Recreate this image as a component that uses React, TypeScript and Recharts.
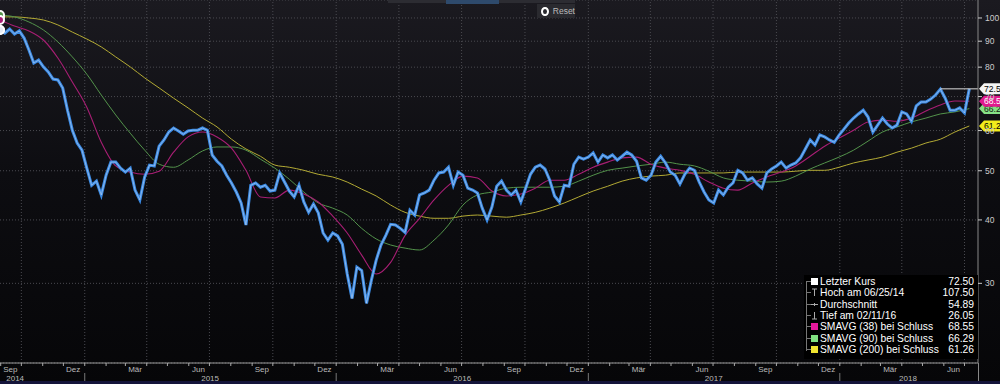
import React from 'react';
import { ComposedChart, Line, XAxis, YAxis, CartesianGrid, ReferenceLine } from 'recharts';

const START = '2014-08-31';

// weekly closes, week 0 = START
const closes = [
  94.7, 93.4, 95.1, 93.0, 94.3, 91.3, 86.5, 81.5, 82.6, 80.1,
  78.3, 75.8, 75.5, 72.8, 65.8, 60.1, 56.7, 54.9, 50.6, 46.8,
  47.7, 44.8, 49.0, 52.0, 52.0, 50.6, 49.7, 50.6, 45.8, 43.8,
  48.6, 51.3, 51.1, 55.9, 57.5, 59.6, 60.7, 59.9, 59.0, 59.9,
  60.1, 60.1, 60.7, 60.1, 53.7, 52.2, 51.1, 49.0, 47.3, 45.4,
  43.2, 39.1, 46.8, 47.3, 46.4, 46.8, 45.6, 45.8, 49.5, 47.5,
  45.6, 44.4, 46.8, 43.4, 41.4, 43.0, 41.3, 37.7, 36.5, 37.7,
  37.2, 35.8, 31.3, 28.0, 32.3, 31.8, 27.4, 30.4, 33.3, 35.7,
  37.3, 39.2, 39.1, 38.5, 37.8, 41.8, 40.9, 44.8, 45.2, 45.8,
  47.9, 49.5, 49.7, 50.8, 46.8, 49.7, 49.0, 46.2, 45.8, 45.2,
  42.2, 40.0, 42.4, 46.6, 47.7, 45.8, 44.8, 45.8, 43.4, 46.2,
  49.2, 50.8, 51.3, 50.4, 47.9, 44.6, 43.4, 46.8, 46.6, 51.5,
  53.2, 52.7, 53.2, 54.2, 52.0, 53.7, 53.0, 53.7, 52.5, 53.4,
  54.4, 53.7, 52.2, 48.4, 47.9, 49.0, 52.0, 53.4, 51.8, 49.7,
  49.0, 47.1, 49.2, 50.6, 50.1, 47.5, 45.4, 43.8, 43.2, 45.8,
  44.8, 46.4, 47.3, 50.1, 49.5, 47.9, 48.4, 47.1, 46.2, 49.5,
  50.4, 51.1, 52.0, 50.6, 51.3, 51.8, 53.0, 55.2, 57.5, 56.2,
  58.8, 58.3, 57.5, 56.9, 58.8, 60.4, 62.1, 63.5, 64.7, 65.8,
  63.8, 59.6, 61.5, 63.5, 61.8, 60.7, 61.5, 65.3, 64.7, 62.6,
  67.1, 68.3, 68.3, 69.2, 70.5, 72.4, 69.5, 65.8, 65.8, 66.5,
  65.0, 72.5,
];

// moving averages, one value every 3 weeks
const MA_STEP = 3;
const sma38 = [
  99.1, 96.4, 94.3, 90.5, 83.4, 74.8, 66.7, 56.9, 51.1, 49.7,
  49.2, 49.9, 54.4, 58.3, 59.6, 58.3, 55.4, 50.1, 44.4, 44.2,
  45.8, 45.0, 43.4, 40.7, 37.7, 34.1, 31.3, 33.0, 37.3, 40.3,
  43.8, 46.8, 48.8, 48.4, 45.6, 44.6, 45.0, 46.2, 47.9, 47.9,
  49.2, 50.8, 52.0, 53.0, 53.2, 51.5, 50.6, 50.1, 49.2, 47.5,
  46.2, 45.8, 47.3, 48.6, 49.7, 51.1, 53.4, 55.9, 58.0, 60.1,
  62.4, 62.9, 62.6, 63.5, 65.6, 67.4, 68.6, 68.55,
];
const sma90 = [
  101.4, 100.5, 98.2, 94.7, 89.7, 83.8, 77.5, 70.5, 64.4, 59.3,
  54.9, 51.5, 50.8, 52.5, 54.7, 55.7, 55.7, 54.9, 52.7, 50.6,
  48.1, 45.4, 43.2, 42.2, 40.9, 38.5, 36.7, 35.7, 35.2, 34.9,
  36.5, 39.1, 42.8, 44.8, 45.4, 46.2, 46.4, 46.4, 46.4, 46.6,
  47.7, 49.0, 50.1, 50.6, 51.1, 51.5, 52.0, 51.5, 51.1, 49.9,
  48.4, 47.9, 47.7, 47.5, 47.7, 48.8, 50.4, 51.8, 53.2, 54.9,
  57.2, 59.6, 61.0, 62.4, 63.5, 64.7, 65.3, 66.29,
];
const sma200 = [
  100.5, 100.5, 100.0, 99.1, 96.9, 93.8, 90.9, 87.7, 83.8, 80.1,
  76.2, 72.8, 69.5, 66.5, 63.5, 61.0, 57.7, 55.2, 53.4, 51.3,
  50.8, 50.1, 49.2, 48.6, 47.5, 46.0, 44.6, 42.8, 41.4, 40.7,
  40.3, 40.3, 40.7, 40.9, 40.7, 40.5, 40.9, 41.4, 42.2, 43.2,
  44.4, 45.6, 46.6, 47.7, 48.4, 48.8, 49.0, 49.5, 49.5, 49.5,
  49.5, 49.7, 49.7, 49.7, 49.7, 49.9, 50.1, 50.1, 50.8, 51.8,
  52.5, 53.2, 54.4, 55.4, 56.7, 57.7, 59.6, 61.26,
];

const yTicks = [30, 40, 50, 60, 70, 80, 90, 100];
const quarterMonthNames: Record<number, string> = { 3: 'Mär', 6: 'Jun', 9: 'Sep', 12: 'Dez' };
const yearLabels: [string, string][] = [
  ['2014-09-22', '2014'], ['2015-07-02', '2015'], ['2016-07-02', '2016'],
  ['2017-07-02', '2017'], ['2018-04-10', '2018'],
];

const lastPrice = 72.5;
const badgeValues = [72.5, 68.55, 66.29, 61.26];
const badgeText = ['72.50', '68.55', '66.29', '61.26'];
const badgeBg = ['#f4f4f4', '#e01a8e', '#86e086', '#f2ec1c'];
const badgeFg = ['#000', '#fff', '#102010', '#000'];

const legendRows = [
  { icon: 'box', color: '#ffffff', label: 'Letzter Kurs', value: '72.50' },
  { icon: 'high', color: '#aaa', label: 'Hoch am 06/25/14', value: '107.50' },
  { icon: 'avg', color: '#aaa', label: 'Durchschnitt', value: '54.89' },
  { icon: 'low', color: '#aaa', label: 'Tief am 02/11/16', value: '26.05' },
  { icon: 'box', color: '#e4189a', label: 'SMAVG (38) bei Schluss', value: '68.55' },
  { icon: 'box', color: '#80e080', label: 'SMAVG (90) bei Schluss', value: '66.29' },
  { icon: 'box', color: '#f0e430', label: 'SMAVG (200) bei Schluss', value: '61.26' },
];

const weekOf = (d: string) => (Date.parse(d) - Date.parse(START)) / 864e5 / 7;
const X_MAX = 202.8;

const priceRows = closes.map((c, i) => ({ week: i, close: c }));
const maRows = sma38.map((v, i) => ({ week: i * MA_STEP, ma38: v, ma90: sma90[i], ma200: sma200[i] }));
// drawn bottom to top so the upper badges stay on top
const badgeRows = badgeValues
  .map((v, i) => ({ week: X_MAX, v, text: badgeText[i], bg: badgeBg[i], fg: badgeFg[i] }))
  .reverse();

// x ticks: month boundaries, quarter labels, year labels
type TickInfo = { kind: 'b' | 'm' | 'y'; text?: string; yearStart?: boolean };
const tickInfo = new Map<string, TickInfo>();
const xTicks: number[] = [];
const k = (w: number) => w.toFixed(3);
const addTick = (w: number, t: TickInfo) => { xTicks.push(w); tickInfo.set(k(w), t); };
const quarterStarts: number[] = [];
for (let y = 2014; y <= 2018; y++) {
  for (let m = 1; m <= 12; m++) {
    const w = weekOf(`${y}-${String(m).padStart(2, '0')}-01`);
    if (w > 0 && w < X_MAX) {
      addTick(w, { kind: 'b', yearStart: m === 1 });
      if ((m - 1) % 3 === 0) quarterStarts.push(w);
    }
    if (quarterMonthNames[m]) {
      const wm = weekOf(`${y}-${String(m).padStart(2, '0')}-15`);
      if (wm > 0 && wm < X_MAX) addTick(wm, { kind: 'm', text: quarterMonthNames[m] });
    }
  }
}
yearLabels.forEach(([d, t]) => addTick(weekOf(d), { kind: 'y', text: t }));
xTicks.sort((a, b) => a - b);

const XTick = (props: any) => {
  const { x, y, payload } = props;
  const t = tickInfo.get(k(payload.value));
  if (!t) return null;
  if (t.kind === 'b') {
    return (
      <g>
        <line x1={x} x2={x} y1={y} y2={y + 3} stroke="#aaa" />
        {t.yearStart && <line x1={x} x2={x} y1={y + 10} y2={y + 19} stroke="#777" />}
      </g>
    );
  }
  return (
    <text x={x} y={t.kind === 'm' ? y + 9 : y + 18} textAnchor="middle" fill="#bbb" fontSize={8}>
      {t.text}
    </text>
  );
};

const YTick = (props: any) => {
  const { x, y, payload } = props;
  return <text x={x} y={y + 3} fill="#ccc" fontSize={8.5}>{payload.value}</text>;
};

const BadgeDot = (props: any) => {
  const { cx, cy, payload } = props;
  if (cx == null || cy == null) return <g />;
  const x0 = cx + 1;
  return (
    <g key={payload.text}>
      <path d={`M${x0},${cy} L${x0 + 5},${cy - 5.5} L${x0 + 40},${cy - 5.5} L${x0 + 40},${cy + 5.5} L${x0 + 5},${cy + 5.5} Z`} fill={payload.bg} />
      <text x={x0 + 5} y={cy + 3.2} fill={payload.fg} fontSize={8.6}>{payload.text}</text>
    </g>
  );
};

const LegendIcon = ({ icon, color }: { icon: string; color: string }) => {
  if (icon === 'box') return <span style={{ display: 'inline-block', width: 7, height: 7, background: color }} />;
  return (
    <svg width={7} height={9} style={{ display: 'inline-block' }}>
      {icon === 'high' && <path d="M1,1 H6 M3.5,1 V8" stroke={color} strokeWidth={1} />}
      {icon === 'low' && <path d="M1,8 H6 M3.5,1 V8" stroke={color} strokeWidth={1} />}
      {icon === 'avg' && <path d="M0,4.5 H7 M3.5,3 V6" stroke={color} strokeWidth={1} />}
    </svg>
  );
};

export default function App() {
  return (
    <div style={{
      position: 'absolute', left: 0, top: 0, width: 1000, height: 384, overflow: 'hidden',
      background: 'linear-gradient(#1b1a20, #0d0d11 45%, #060608)',
      fontFamily: '"Liberation Sans", Arial, sans-serif',
    }}>
      <ComposedChart width={1000} height={384} margin={{ top: 0, right: 0, bottom: 0, left: 0 }}>
        <CartesianGrid vertical={false} stroke="#4a4a50" strokeDasharray="1 2" />
        {quarterStarts.map((w) => (
          <ReferenceLine key={w} x={w} stroke="#4a4a50" strokeDasharray="1 2" />
        ))}
        <XAxis
          type="number" dataKey="week" domain={[0, X_MAX]}
          ticks={xTicks} interval={0} tick={<XTick />} tickLine={false} tickSize={0} tickMargin={0}
          height={21} axisLine={{ stroke: '#999' }}
        />
        <YAxis
          orientation="right" scale="log" domain={[20.9, 108.5]}
          ticks={yTicks} tick={<YTick />} tickSize={4} tickMargin={3} width={22}
          axisLine={{ stroke: '#888' }} tickLine={{ stroke: '#ccc' }}
        />
        <Line data={maRows} dataKey="ma200" type="monotone" stroke="#b3aa34" strokeWidth={1} dot={false} isAnimationActive={false} />
        <Line data={maRows} dataKey="ma90" type="monotone" stroke="#53934b" strokeWidth={1} dot={false} isAnimationActive={false} />
        <Line data={maRows} dataKey="ma38" type="monotone" stroke="#a81e74" strokeWidth={1.1} dot={false} isAnimationActive={false} />
        <Line data={priceRows} dataKey="close" type="linear" stroke="#3a8ae4" strokeWidth={3} dot={false} isAnimationActive={false} />
        <Line data={priceRows} dataKey="close" type="linear" stroke="#e6ecf5" strokeWidth={0.9} strokeOpacity={0.5} dot={false} isAnimationActive={false} />
        <ReferenceLine segment={[{ x: 195, y: lastPrice }, { x: X_MAX, y: lastPrice }]} stroke="#ddd" />
        <Line data={badgeRows} dataKey="v" stroke="none" dot={<BadgeDot />} activeDot={false} isAnimationActive={false} />
      </ComposedChart>

      <div style={{ position: 'absolute', left: 978, top: 363, width: 1, height: 21, background: '#888' }} />
      <div style={{ position: 'absolute', left: 0, top: 381, width: 1000, height: 3, background: '#14143a' }} />

      {/* top bar and reset button */}
      <div style={{ position: 'absolute', left: 388, top: 0, width: 187, height: 3, background: '#2c2c32' }} />
      <div style={{ position: 'absolute', left: 446, top: 0, width: 53, height: 4, background: '#2e4a6c' }} />
      <div style={{
        position: 'absolute', left: 537, top: 4, width: 38, height: 14, background: '#2a2a2f',
        color: '#bbb', fontSize: 8.5, display: 'flex', alignItems: 'center', gap: 4, paddingLeft: 4, boxSizing: 'border-box',
      }}>
        <span style={{ width: 5, height: 5, borderRadius: '50%', border: '2px solid #fff', display: 'inline-block' }} />
        Reset
      </div>

      {/* legend */}
      <div style={{
        position: 'absolute', left: 804, top: 275, width: 174, height: 84, background: '#000',
        color: '#fff', fontSize: 10.3,
      }}>
        <div style={{ position: 'absolute', left: 2, top: 6, width: 1, height: 70, background: '#777' }} />
        {legendRows.map((r, i) => (
          <div key={r.label} style={{ position: 'absolute', left: 0, top: 1 + i * 11.3, width: 170, height: 11.3, display: 'flex', alignItems: 'center' }}>
            <span style={{ width: 5, height: 1, background: '#777', marginLeft: 2 }} />
            <LegendIcon icon={r.icon} color={r.color} />
            <span style={{ marginLeft: 2, whiteSpace: 'nowrap' }}>{r.label}</span>
            <span style={{ marginLeft: 'auto' }}>{r.value}</span>
          </div>
        ))}
      </div>
    </div>
  );
}
